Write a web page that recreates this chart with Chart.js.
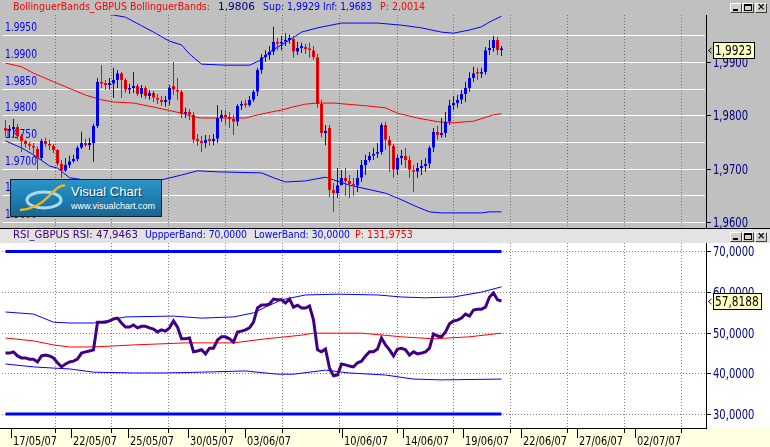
<!DOCTYPE html>
<html><head><meta charset="utf-8">
<script src="https://cdn.jsdelivr.net/npm/chart.js@4/dist/chart.umd.min.js"></script>
<style>
html,body{margin:0;padding:0;background:#c0c0c0;}
#wrap{position:relative;width:770px;height:447px;overflow:hidden;background:#c0c0c0;}
canvas{position:absolute;left:0;display:block;}
#cTop{top:0;}
#cBot{top:229px;}
.seg{position:absolute;white-space:pre;font-size:11px;line-height:14px;transform-origin:0 0;}
.btns{position:absolute;left:730px;width:38px;height:10px;}
.btn{position:absolute;top:0;width:10px;height:8px;background:#d4d0c8;border:1px solid;border-color:#fff #404040 #404040 #fff;}
.btn i{position:absolute;display:block;}
#logo{position:absolute;left:10px;top:179px;width:150px;height:36px;border:1px solid #0a2233;background:linear-gradient(180deg,#2b94c8 0%,#1e7db0 55%,#176790 100%);}
#logo .t1{position:absolute;left:60px;top:4px;color:#fff;font:13px "Liberation Sans",Arial,sans-serif;text-shadow:1px 1px 1px #0b3a55;}
#logo .t2{position:absolute;left:60px;top:21px;color:#fff;font:9px "Liberation Sans",Arial,sans-serif;}
</style></head><body>
<div id="wrap">
<canvas id="cTop" width="770" height="229"></canvas>
<canvas id="cBot" width="770" height="218"></canvas>
<div class="seg" data-w="197" style="top:0;left:13px;color:#ff0000">BollinguerBands_GBPUS BollinguerBands:</div>
<div class="seg" data-w="37" style="top:0;left:218px;color:#000080">1,9806</div>
<div class="seg" data-w="57" style="top:0;left:263px;color:#0000ff">Sup: 1,9929</div>
<div class="seg" data-w="49" style="top:0;left:323px;color:#0000ff">Inf: 1,9683</div>
<div class="seg" data-w="45" style="top:0;left:380px;color:#ff0000">P: 2,0014</div>
<div class="seg" data-w="125" style="top:228px;left:13px;color:#400080">RSI_GBPUS RSI: 47,9463</div>
<div class="seg" data-w="102" style="top:228px;left:145px;color:#0000ff">UppperBand: 70,0000</div>
<div class="seg" data-w="96" style="top:228px;left:254px;color:#0000ff">LowerBand: 30,0000</div>
<div class="seg" data-w="58" style="top:228px;left:355px;color:#ff0000">P: 131,9753</div>
<div id="logo">
<svg width="56" height="36" style="position:absolute;left:4px;top:0;">
<ellipse cx="29" cy="20" rx="17" ry="8" fill="none" stroke="#a8dcf5" stroke-width="3"/>
<path d="M5 30 Q 22 29 34 16 T 50 6" stroke="#f4b41a" stroke-width="2.5" fill="none"/>
</svg>
<div class="t1">Visual Chart</div>
<div class="t2">www.visualchart.com</div>
</div>
<div class="btns" style="top:3px;">
<div class="btn" style="left:0"><i style="left:2px;top:5px;width:5px;height:2px;background:#000"></i></div>
<div class="btn" style="left:12px"><i style="left:1px;top:0px;border:1px solid #000;border-top-width:2px;box-sizing:border-box;width:8px;height:7px"></i></div>
<div class="btn" style="left:25px"><i style="left:1px;top:-3px;font:bold 10px/12px 'DejaVu Sans',sans-serif;color:#000">×</i></div>
</div>
<div class="btns" style="top:232px;">
<div class="btn" style="left:0"><i style="left:2px;top:5px;width:5px;height:2px;background:#000"></i></div>
<div class="btn" style="left:12px"><i style="left:1px;top:0px;border:1px solid #000;border-top-width:2px;box-sizing:border-box;width:8px;height:7px"></i></div>
<div class="btn" style="left:25px"><i style="left:1px;top:-3px;font:bold 10px/12px 'DejaVu Sans',sans-serif;color:#000">×</i></div>
</div>
</div>
<script>
// ---------- DATA ----------
const opens = [1.9776,1.9771,1.9774,1.9778,1.9761,1.9752,1.9746,1.9743,1.9737,1.9720,
1.9752,1.9746,1.9743,1.9735,1.9709,1.9696,1.9707,1.9714,1.9718,1.9739,
1.9748,1.9744,1.9748,1.9780,1.9863,1.9859,1.9857,1.9859,1.9866,1.9879,
1.9866,1.9848,1.9851,1.9855,1.9840,1.9851,1.9836,1.9842,1.9833,1.9829,
1.9825,1.9829,1.9855,1.9848,1.9844,1.9803,1.9806,1.9801,1.9754,1.9752,
1.9748,1.9754,1.9752,1.9756,1.9795,1.9801,1.9797,1.9793,1.9788,1.9818,
1.9821,1.9819,1.9829,1.9844,1.9885,1.9909,1.9913,1.9919,1.9938,1.9934,
1.9938,1.9941,1.9943,1.9919,1.9926,1.9928,1.9924,1.9922,1.9909,1.9821,
1.9767,1.9776,1.9660,1.9654,1.9669,1.9683,1.9677,1.9671,1.9668,1.9683,
1.9707,1.9716,1.9724,1.9728,1.9731,1.9782,1.9754,1.9743,1.9698,1.9720,
1.9724,1.9716,1.9698,1.9694,1.9701,1.9705,1.9709,1.9739,1.9769,1.9763,
1.9767,1.9788,1.9819,1.9823,1.9829,1.9840,1.9851,1.9870,1.9879,1.9878,
1.9881,1.9922,1.9926,1.9941,1.9922];
const highs = [1.9791,1.9782,1.9793,1.9784,1.9765,1.9754,1.9750,1.9748,1.9741,1.9756,
1.9758,1.9754,1.9746,1.9737,1.9716,1.9720,1.9724,1.9726,1.9743,1.9769,
1.9756,1.9758,1.9784,1.9870,1.9894,1.9866,1.9870,1.9889,1.9885,1.9881,
1.9870,1.9859,1.9881,1.9859,1.9857,1.9855,1.9848,1.9846,1.9840,1.9836,
1.9836,1.9857,1.9900,1.9870,1.9848,1.9814,1.9812,1.9806,1.9765,1.9761,
1.9763,1.9763,1.9765,1.9819,1.9810,1.9810,1.9806,1.9801,1.9821,1.9827,
1.9829,1.9836,1.9848,1.9889,1.9915,1.9922,1.9930,1.9966,1.9945,1.9949,
1.9954,1.9951,1.9949,1.9938,1.9936,1.9934,1.9936,1.9930,1.9915,1.9829,
1.9782,1.9782,1.9673,1.9701,1.9698,1.9701,1.9688,1.9683,1.9698,1.9716,
1.9726,1.9731,1.9739,1.9748,1.9786,1.9788,1.9761,1.9746,1.9726,1.9735,
1.9739,1.9724,1.9707,1.9711,1.9716,1.9720,1.9743,1.9776,1.9780,1.9795,
1.9806,1.9829,1.9836,1.9838,1.9848,1.9863,1.9881,1.9891,1.9889,1.9889,
1.9928,1.9941,1.9949,1.9947,1.9930];
const lows = [1.9759,1.9759,1.9758,1.9754,1.9731,1.9739,1.9735,1.9726,1.9698,1.9716,
1.9741,1.9735,1.9729,1.9705,1.9683,1.9694,1.9701,1.9711,1.9714,1.9737,
1.9741,1.9735,1.9713,1.9776,1.9851,1.9848,1.9848,1.9833,1.9851,1.9833,
1.9842,1.9840,1.9842,1.9836,1.9833,1.9831,1.9829,1.9825,1.9821,1.9818,
1.9816,1.9819,1.9838,1.9829,1.9795,1.9795,1.9791,1.9748,1.9743,1.9731,
1.9739,1.9743,1.9744,1.9748,1.9788,1.9782,1.9776,1.9763,1.9780,1.9810,
1.9814,1.9816,1.9825,1.9836,1.9878,1.9900,1.9904,1.9913,1.9922,1.9922,
1.9930,1.9934,1.9908,1.9913,1.9917,1.9915,1.9908,1.9904,1.9814,1.9759,
1.9744,1.9647,1.9619,1.9645,1.9669,1.9649,1.9645,1.9649,1.9656,1.9675,
1.9688,1.9713,1.9716,1.9720,1.9726,1.9735,1.9694,1.9683,1.9688,1.9707,
1.9701,1.9683,1.9656,1.9683,1.9688,1.9694,1.9701,1.9731,1.9754,1.9758,
1.9759,1.9782,1.9810,1.9814,1.9821,1.9825,1.9844,1.9863,1.9866,1.9870,
1.9876,1.9913,1.9919,1.9913,1.9911];
const closes = [1.9771,1.9774,1.9778,1.9761,1.9752,1.9746,1.9743,1.9739,1.9720,1.9752,
1.9746,1.9743,1.9735,1.9709,1.9696,1.9707,1.9714,1.9718,1.9739,1.9748,
1.9744,1.9748,1.9780,1.9863,1.9859,1.9857,1.9859,1.9866,1.9879,1.9866,
1.9848,1.9851,1.9855,1.9840,1.9851,1.9836,1.9842,1.9833,1.9829,1.9825,
1.9829,1.9851,1.9848,1.9844,1.9803,1.9806,1.9801,1.9754,1.9752,1.9748,
1.9754,1.9752,1.9756,1.9795,1.9801,1.9797,1.9793,1.9788,1.9818,1.9821,
1.9819,1.9829,1.9844,1.9885,1.9909,1.9913,1.9919,1.9938,1.9934,1.9938,
1.9941,1.9943,1.9919,1.9926,1.9928,1.9924,1.9922,1.9909,1.9821,1.9767,
1.9771,1.9660,1.9654,1.9669,1.9683,1.9677,1.9671,1.9668,1.9683,1.9707,
1.9716,1.9724,1.9728,1.9731,1.9782,1.9754,1.9743,1.9698,1.9720,1.9724,
1.9716,1.9698,1.9694,1.9701,1.9705,1.9709,1.9739,1.9769,1.9763,1.9767,
1.9788,1.9819,1.9823,1.9829,1.9840,1.9851,1.9870,1.9879,1.9878,1.9881,
1.9922,1.9926,1.9941,1.9922,1.9923];

const bbUpperIdx = [0,10,20,27,30,34,37,41,44,46,49,55,61,64,66,69,71,74,78,84,93,99,104,109,112,116,119,121,124];
const bbUpper = [2.0010,2.0004,1.9996,1.9988,1.9984,1.9968,1.9956,1.9939,1.9932,1.9915,1.9896,1.9894,1.9894,1.9904,1.9919,1.9932,1.9941,1.9956,1.9964,1.9973,1.9973,1.9969,1.9964,1.9956,1.9954,1.9960,1.9966,1.9975,1.9986];
const bbMidIdx = [0,4,7,12,20,24,27,32,38,44,47,49,60,62,65,69,72,75,78,82,90,95,98,103,108,112,117,122,124];
const bbMid = [1.9898,1.9891,1.9879,1.9863,1.9838,1.9829,1.9825,1.9823,1.9814,1.9804,1.9797,1.9795,1.9795,1.9799,1.9804,1.9810,1.9816,1.9821,1.9823,1.9823,1.9818,1.9814,1.9804,1.9795,1.9788,1.9786,1.9789,1.9801,1.9803];
const bbLowIdx = [0,4,7,11,13,16,25,39,44,48,53,64,67,70,75,80,82,86,95,98,103,106,109,119,121,124];
const bbLow = [1.9752,1.9739,1.9726,1.9705,1.9701,1.9683,1.9673,1.9679,1.9688,1.9696,1.9694,1.9692,1.9683,1.9675,1.9677,1.9684,1.9679,1.9669,1.9654,1.9645,1.9628,1.9619,1.9617,1.9617,1.9619,1.9619];

const rsi = [45.0,45.0,45.3,44.3,43.8,43.8,43.5,43.5,42.8,44.3,
44.5,44.3,43.8,42.6,41.6,42.3,42.8,43.0,43.5,45.0,
45.3,45.5,45.8,52.6,52.6,52.6,52.9,53.4,53.6,52.4,
51.4,51.4,51.9,51.2,51.6,51.6,51.2,50.9,50.2,50.7,
50.4,51.2,52.9,51.4,48.5,48.5,48.7,45.3,45.5,45.8,
44.8,46.2,46.2,48.2,49.0,49.0,48.5,47.7,50.2,50.4,
50.7,51.2,52.6,56.1,56.8,56.8,57.1,58.3,58.1,58.1,
57.3,58.3,56.3,56.8,56.1,56.1,56.6,53.1,45.8,45.3,
46.0,41.3,39.4,39.6,42.3,42.1,41.8,41.6,42.6,43.0,
44.3,45.3,45.3,46.0,48.7,47.0,45.8,44.3,46.0,46.2,
45.8,44.5,45.3,44.8,45.0,45.3,46.2,49.7,49.2,49.0,
50.2,52.2,52.9,53.1,53.6,54.6,54.1,55.6,55.8,55.8,
56.3,58.8,59.8,58.1,57.8188];
const rsiUpIdx = [0,7,12,16,22,25,30,42,49,57,62,65,69,75,83,93,99,105,112,119,124];
const rsiUp = [55.1,54.6,52.6,52.4,52.4,52.9,53.9,54.1,53.6,53.9,54.9,56.3,58.1,59.3,59.5,59.3,58.8,58.6,58.8,60.0,61.3];
const rsiMidIdx = [0,7,12,16,22,32,45,57,65,74,77,89,99,107,116,124];
const rsiMid = [48.7,48.0,47.0,46.5,46.5,47.0,47.5,47.5,48.5,49.4,49.9,49.9,49.0,48.5,49.0,49.9];
const rsiLowIdx = [0,7,12,16,22,32,40,49,60,68,72,80,86,95,102,109,124];
const rsiLow = [42.3,41.6,41.3,41.1,40.3,40.1,40.1,40.3,40.6,39.8,39.8,40.8,40.1,39.6,38.6,38.4,38.6];
const rsiUpperLevel = 70, rsiLowerLevel = 30;

const dateLabels = ['17/05/07','22/05/07','25/05/07','30/05/07','03/06/07','10/06/07','14/06/07','19/06/07','22/06/07','27/06/07','02/07/07'];
const dateTickIdx = [1.4,16.4,30.6,45.6,59.9,84.1,99.4,114.4,128.9,142.9,157.4];
const gridIdx = [12.4,26.4,40.6,54.9,69.1,83.4,97.9,111.9,126.1,140.4,154.6,168.9];
const priceGridLevels = [1.960,1.965,1.970,1.975,1.980,1.985,1.990,1.995];
const priceAxisLevels = [1.96,1.97,1.98,1.99];
const rsiLevels = [30,40,50,60,70];

// ---------- FONTS (height from reference, width squeezed to reference) ----------
const mctx = document.createElement('canvas').getContext('2d');
function hasFont(name) {
  const s = 'BollinguerBands 1,9806 Wi';
  mctx.font = '40px "' + name + '", monospace'; const a = mctx.measureText(s).width;
  mctx.font = '40px monospace'; const b = mctx.measureText(s).width;
  return Math.abs(a - b) > 0.5;
}
const FAM = hasFont('Liberation Sans Narrow') ? '"Liberation Sans Narrow"' :
            (hasFont('Arial Narrow') ? '"Arial Narrow"' : '"DejaVu Sans Condensed"');
function squeeze(sample, size, target) { mctx.font = size + 'px ' + FAM; return {font: size + 'px ' + FAM, sx: Math.min(1.15, target / mctx.measureText(sample).width)}; }
const LEFT_T = squeeze('1.9950', 12.5, 32);
const AXIS_T = squeeze('1,9900', 13.5, 35);
const BOX_T = squeeze('1,9923', 13.5, 37);
const DATE_T = squeeze('17/05/07', 12.5, 44);
document.querySelectorAll('.seg').forEach(e => {
  e.style.fontFamily = FAM + ',sans-serif';
  mctx.font = '11px ' + FAM;
  const sx = +e.dataset.w / mctx.measureText(e.textContent).width;
  e.style.transform = 'scaleX(' + sx.toFixed(3) + ')';
});
function sText(ctx, spec, text, x, y) {
  ctx.save(); ctx.font = spec.font; ctx.translate(x, y); ctx.scale(spec.sx, 1);
  ctx.fillText(text, 0, 0); ctx.restore();
}

// ---------- HELPERS ----------
const BLUE = '#0000ff', RED = '#ff0000';
const X_MIN = -0.875, X_MAX = 174.875;
const pts = (idx, vals) => idx.map((x, k) => ({x, y: vals[k]}));
const upCol = closes.map((c, i) => c >= opens[i] ? BLUE : RED);
const fmt = v => v.toFixed(4).replace('.', ',');

function valueBox(ctx, py, text, w) {
  const top = Math.round(py) - 8;
  ctx.fillStyle = '#ffffc0';
  ctx.fillRect(713, top, w, 17);
  ctx.strokeStyle = '#000'; ctx.lineWidth = 1;
  ctx.strokeRect(713.5, top + 0.5, w - 1, 16);
  ctx.fillStyle = '#000'; ctx.textBaseline = 'middle'; ctx.textAlign = 'left';
  sText(ctx, BOX_T, text, 715, top + 9);
  ctx.beginPath();
  ctx.moveTo(711.5, top + 6); ctx.lineTo(708.5, top + 8.5); ctx.lineTo(711.5, top + 11);
  ctx.stroke();
}

// ---------- TOP CHART ----------
const topDeco = {
  id: 'topDeco',
  beforeDatasetsDraw(chart) {
    const {ctx, chartArea: a, scales: {x, y}} = chart;
    ctx.save();
    ctx.strokeStyle = '#ffffff'; ctx.lineWidth = 1;
    priceGridLevels.forEach(v => {
      const py = Math.round(y.getPixelForValue(v)) + 0.5;
      ctx.beginPath(); ctx.moveTo(a.left, py); ctx.lineTo(a.right, py); ctx.stroke();
    });
    ctx.strokeStyle = '#707070'; ctx.setLineDash([1, 2]);
    gridIdx.forEach(g => {
      const px = Math.round(x.getPixelForValue(g)) + 0.5;
      ctx.beginPath(); ctx.moveTo(px, a.top); ctx.lineTo(px, a.bottom); ctx.stroke();
    });
    ctx.setLineDash([]);
    ctx.fillStyle = BLUE; ctx.textBaseline = 'alphabetic'; ctx.textAlign = 'left';
    priceGridLevels.forEach(v => {
      const py = Math.round(y.getPixelForValue(v));
      sText(ctx, LEFT_T, v.toFixed(4), 5, py - 4);
    });
    ctx.fillStyle = '#000';
    ctx.fillRect(706, a.top, 1, chart.height - a.top);
    ctx.fillRect(0, 228, 770, 1);
    ctx.textBaseline = 'middle';
    priceAxisLevels.forEach(v => {
      const py = Math.round(y.getPixelForValue(v));
      ctx.fillStyle = '#000'; ctx.fillRect(706, py, 5, 1);
      ctx.fillStyle = '#000080'; sText(ctx, AXIS_T, fmt(v), 713, py + 1);
    });
    ctx.restore();
  },
  afterDraw(chart) {
    const {ctx, scales: {y}} = chart;
    ctx.save();
    const last = closes[closes.length - 1];
    valueBox(ctx, y.getPixelForValue(last), fmt(last), 42);
    ctx.restore();
  }
};

new Chart(document.getElementById('cTop'), {
  type: 'bar',
  data: {
    datasets: [
      {type: 'line', data: pts(bbUpperIdx, bbUpper), borderColor: BLUE, borderWidth: 1, pointRadius: 0, tension: 0, order: 3},
      {type: 'line', data: pts(bbMidIdx, bbMid), borderColor: RED, borderWidth: 1, pointRadius: 0, tension: 0, order: 3},
      {type: 'line', data: pts(bbLowIdx, bbLow), borderColor: BLUE, borderWidth: 1, pointRadius: 0, tension: 0, order: 3},
      {data: lows.map((l, i) => ({x: i, y: [l, highs[i]]})), backgroundColor: upCol, borderWidth: 0,
        barThickness: 1, grouped: false, inflateAmount: 0, order: 2},
      {data: opens.map((o, i) => ({x: i, y: [o, closes[i]]})), backgroundColor: '#000000', borderColor: upCol,
        borderWidth: 1, borderSkipped: false, barThickness: 3, grouped: false, inflateAmount: 0, minBarLength: 2, order: 1}
    ]
  },
  options: {
    responsive: false, animation: false, events: [], devicePixelRatio: 1,
    layout: {padding: {left: 2, right: 65, top: 15, bottom: 2}},
    scales: {
      x: {type: 'linear', min: X_MIN, max: X_MAX, offset: false, display: false},
      y: {type: 'linear', min: 1.95906, max: 1.99881, display: false}
    },
    plugins: {legend: {display: false}, tooltip: {enabled: false}}
  },
  plugins: [topDeco]
});

// ---------- RSI CHART ----------
const botDeco = {
  id: 'botDeco',
  beforeDatasetsDraw(chart) {
    const {ctx, chartArea: a, scales: {x, y}} = chart;
    ctx.save();
    ctx.fillStyle = '#e3e3e3'; ctx.fillRect(0, 0, chart.width, a.top);
    ctx.fillStyle = '#ffffff'; ctx.fillRect(0, a.top, chart.width, a.bottom - a.top);
    ctx.fillStyle = '#ffffe1'; ctx.fillRect(0, a.bottom, chart.width, chart.height - a.bottom);
    ctx.strokeStyle = '#808080'; ctx.lineWidth = 1; ctx.setLineDash([1, 2]);
    rsiLevels.forEach(v => {
      const py = Math.round(y.getPixelForValue(v)) + 0.5;
      ctx.beginPath(); ctx.moveTo(a.left, py); ctx.lineTo(a.right, py); ctx.stroke();
    });
    gridIdx.forEach(g => {
      const px = Math.round(x.getPixelForValue(g)) + 0.5;
      ctx.beginPath(); ctx.moveTo(px, a.top); ctx.lineTo(px, a.bottom); ctx.stroke();
    });
    ctx.setLineDash([]);
    ctx.fillStyle = '#000';
    ctx.fillRect(706, a.top, 1, a.bottom - a.top);
    ctx.fillRect(0, a.bottom, 707, 1);
    ctx.textBaseline = 'middle'; ctx.textAlign = 'left';
    rsiLevels.forEach(v => {
      const py = Math.round(y.getPixelForValue(v));
      ctx.fillStyle = '#000'; ctx.fillRect(706, py, 5, 1);
      ctx.fillStyle = '#000080'; sText(ctx, AXIS_T, fmt(v), 713, py + 1);
    });
    ctx.fillStyle = '#000';
    gridIdx.forEach(g => {
      const px = Math.round(x.getPixelForValue(g));
      ctx.fillRect(px, a.bottom, 1, 5);
    });
    ctx.textBaseline = 'alphabetic';
    dateTickIdx.forEach((t, k) => {
      const px = Math.round(x.getPixelForValue(t));
      ctx.fillRect(px, a.bottom, 1, 10);
      sText(ctx, DATE_T, dateLabels[k], px + 2, a.bottom + 17);
    });
    ctx.restore();
  },
  afterDraw(chart) {
    const {ctx, scales: {y}} = chart;
    ctx.save();
    const last = rsi[rsi.length - 1];
    valueBox(ctx, y.getPixelForValue(last), fmt(last), 49);
    ctx.restore();
  }
};

const lastIdx = rsi.length - 1;
new Chart(document.getElementById('cBot'), {
  type: 'line',
  data: {
    datasets: [
      {data: [{x: 0, y: rsiUpperLevel}, {x: lastIdx, y: rsiUpperLevel}], borderColor: BLUE, borderWidth: 3, pointRadius: 0, order: 3},
      {data: [{x: 0, y: rsiLowerLevel}, {x: lastIdx, y: rsiLowerLevel}], borderColor: BLUE, borderWidth: 3, pointRadius: 0, order: 3},
      {data: pts(rsiUpIdx, rsiUp), borderColor: BLUE, borderWidth: 1, pointRadius: 0, tension: 0, order: 2},
      {data: pts(rsiMidIdx, rsiMid), borderColor: RED, borderWidth: 1, pointRadius: 0, tension: 0, order: 2},
      {data: pts(rsiLowIdx, rsiLow), borderColor: BLUE, borderWidth: 1, pointRadius: 0, tension: 0, order: 2},
      {data: rsi.map((v, i) => ({x: i, y: v})), borderColor: '#400080', borderWidth: 3, pointRadius: 0, tension: 0, order: 1}
    ]
  },
  options: {
    responsive: false, animation: false, events: [], devicePixelRatio: 1,
    layout: {padding: {left: 2, right: 65, top: 14, bottom: 19}},
    scales: {
      x: {type: 'linear', min: X_MIN, max: X_MAX, offset: false, display: false},
      y: {type: 'linear', min: 26.554, max: 72.092, display: false}
    },
    plugins: {legend: {display: false}, tooltip: {enabled: false}}
  },
  plugins: [botDeco]
});
</script>
</body></html>
